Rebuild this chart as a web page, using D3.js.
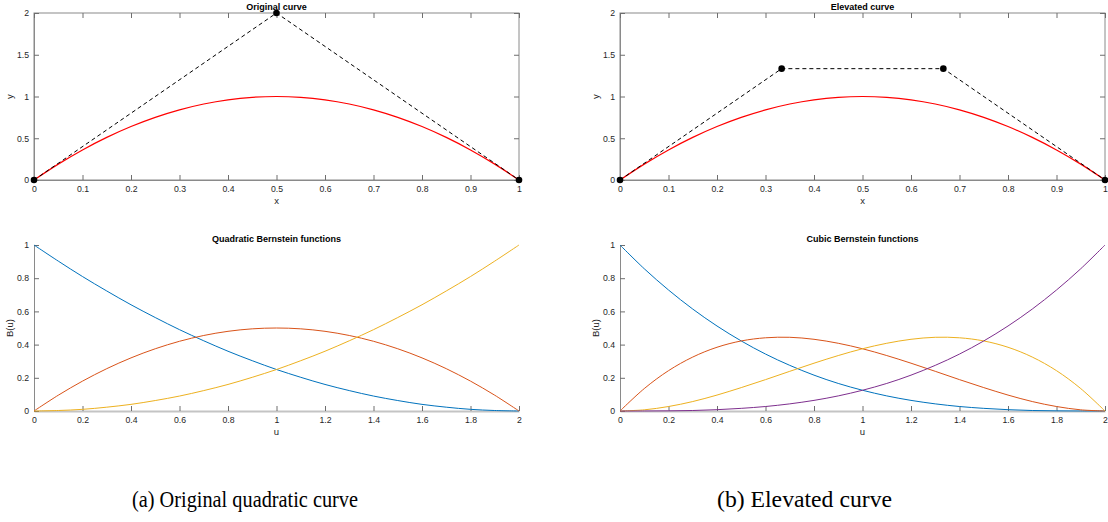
<!DOCTYPE html>
<html>
<head>
<meta charset="utf-8">
<script src="https://cdn.jsdelivr.net/npm/d3@7"></script>
<style>
html,body{margin:0;padding:0;background:#fff;}
svg{display:block;}
</style>
</head>
<body>
<svg id="c" width="1108" height="522"></svg>
<script>
// ---------- data ----------
// parameter samples (x for the curve, t = u/2 for Bernstein plots)
const xSamples = [0,0.05,0.1,0.15,0.2,0.25,0.3,0.35,0.4,0.45,0.5,0.55,0.6,0.65,0.7,0.75,0.8,0.85,0.9,0.95,1];
const uSamples = [0,0.1,0.2,0.3,0.4,0.5,0.6,0.7,0.8,0.9,1,1.1,1.2,1.3,1.4,1.5,1.6,1.7,1.8,1.9,2];
// red curve y values (same for both)
const curveY = [0,0.19,0.36,0.51,0.64,0.75,0.84,0.91,0.96,0.99,1,0.99,0.96,0.91,0.84,0.75,0.64,0.51,0.36,0.19,0];
// control polygons
const origCtrlX = [0,0.5,1];
const origCtrlY = [0,2,0];
const elevCtrlX = [0,0.3333,0.6667,1];
const elevCtrlY = [0,1.3333,1.3333,0];
// quadratic Bernstein functions
const quadB0 = [1,0.903,0.81,0.723,0.64,0.563,0.49,0.423,0.36,0.303,0.25,0.203,0.16,0.123,0.09,0.063,0.04,0.023,0.01,0.003,0];
const quadB1 = [0,0.095,0.18,0.255,0.32,0.375,0.42,0.455,0.48,0.495,0.5,0.495,0.48,0.455,0.42,0.375,0.32,0.255,0.18,0.095,0];
const quadB2 = [0,0.003,0.01,0.023,0.04,0.063,0.09,0.123,0.16,0.203,0.25,0.303,0.36,0.423,0.49,0.563,0.64,0.723,0.81,0.903,1];
// cubic Bernstein functions
const cubB0 = [1,0.857,0.729,0.614,0.512,0.422,0.343,0.275,0.216,0.166,0.125,0.091,0.064,0.043,0.027,0.016,0.008,0.003,0.001,0.0001,0];
const cubB1 = [0,0.135,0.243,0.325,0.384,0.422,0.441,0.444,0.432,0.408,0.375,0.334,0.288,0.239,0.189,0.141,0.096,0.057,0.027,0.007,0];
const cubB2 = [0,0.007,0.027,0.057,0.096,0.141,0.189,0.239,0.288,0.334,0.375,0.408,0.432,0.444,0.441,0.422,0.384,0.325,0.243,0.135,0];
const cubB3 = [0,0.0001,0.001,0.003,0.008,0.016,0.027,0.043,0.064,0.091,0.125,0.166,0.216,0.275,0.343,0.422,0.512,0.614,0.729,0.857,1];
// ticks
const curveXTicks = [0,0.1,0.2,0.3,0.4,0.5,0.6,0.7,0.8,0.9,1];
const curveYTicks = [0,0.5,1,1.5,2];
const bernXTicks = [0,0.2,0.4,0.6,0.8,1,1.2,1.4,1.6,1.8,2];
const bernYTicks = [0,0.2,0.4,0.6,0.8,1];
const colors = ["#0072BD","#D95319","#EDB120","#7E2F8E"];
const captions = ["(a) Original quadratic curve","(b) Elevated curve"];

// ---------- drawing ----------
const svg = d3.select("#c");
const FONT = "'Liberation Sans', Arial, Helvetica, sans-serif";
const fmt = d => String(+d.toFixed(2));

function panel(o){
  const g = svg.append("g");
  const x = d3.scaleLinear().domain(o.xd).range([o.x0,o.x1]);
  const y = d3.scaleLinear().domain(o.yd).range([o.y0,o.y1]);
  const tickCol = "#262626";
  if(o.box){
    g.append("rect").attr("x",o.x0).attr("y",o.y1).attr("width",o.x1-o.x0).attr("height",o.y0-o.y1)
      .attr("fill","none").attr("stroke","#8a8a8a").attr("stroke-width",1);
  }
  const ax = g.append("g").attr("transform",`translate(0,${o.y0})`)
    .call(d3.axisBottom(x).tickValues(o.xt).tickFormat(fmt).tickSizeInner(-5).tickSizeOuter(0).tickPadding(6));
  const ay = g.append("g").attr("transform",`translate(${o.x0},0)`)
    .call(d3.axisLeft(y).tickValues(o.yt).tickFormat(fmt).tickSizeInner(-5).tickSizeOuter(0).tickPadding(5));
  [ax,ay].forEach(a=>{
    a.selectAll("text").attr("font-family",FONT).attr("font-size",8.7).attr("fill",tickCol);
    a.selectAll(".tick line").attr("stroke","#6e6e6e");
  });
  if(o.box){
    ax.select(".domain").attr("stroke","#8a8a8a");
    ay.select(".domain").attr("stroke","#8a8a8a");
    const at = g.append("g").attr("transform",`translate(0,${o.y1})`)
      .call(d3.axisTop(x).tickValues(o.xt).tickFormat("").tickSizeInner(-5).tickSizeOuter(0));
    const ar = g.append("g").attr("transform",`translate(${o.x1},0)`)
      .call(d3.axisRight(y).tickValues(o.yt).tickFormat("").tickSizeInner(-5).tickSizeOuter(0));
    [at,ar].forEach(a=>{a.select(".domain").remove();a.selectAll(".tick line").attr("stroke","#6e6e6e");});
  } else {
    ax.select(".domain").attr("stroke","#c4c4c4").attr("stroke-width",2);
    ay.select(".domain").attr("stroke","#8a8a8a");
  }
  g.append("text").attr("x",(o.x0+o.x1)/2).attr("y",o.y0+24).attr("text-anchor","middle")
    .attr("font-family",FONT).attr("font-size",9.5).attr("fill",tickCol).text(o.xl);
  g.append("text").attr("transform",`translate(${o.x0-21},${(o.y0+o.y1)/2}) rotate(-90)`).attr("text-anchor","middle")
    .attr("font-family",FONT).attr("font-size",9.5).attr("fill",tickCol).text(o.yl);
  g.append("text").attr("x",(o.x0+o.x1)/2).attr("y",o.y1-3).attr("text-anchor","middle")
    .attr("font-family",FONT).attr("font-size",9).attr("font-weight","bold").attr("fill","#000").text(o.title);
  return {g,x,y};
}

const L = {x0:34,x1:519}, R = {x0:620,x1:1105};
const topY = {y0:180,y1:13}, botY = {y0:411,y1:245};

function curvePanel(pos, title, cx, cy){
  const p = panel(Object.assign({},pos,topY,{xd:[0,1],yd:[0,2],xt:curveXTicks,yt:curveYTicks,box:true,xl:"x",yl:"y",title}));
  const line = d3.line().x(d=>p.x(d[0])).y(d=>p.y(d[1])).curve(d3.curveCatmullRom);
  p.g.append("path").attr("d",line(xSamples.map((v,i)=>[v,curveY[i]])))
    .attr("fill","none").attr("stroke","#ff0000").attr("stroke-width",1.2);
  const poly = d3.line().x(d=>p.x(d[0])).y(d=>p.y(d[1]));
  const pts = cx.map((v,i)=>[v,cy[i]]);
  p.g.append("path").attr("d",poly(pts)).attr("fill","none").attr("stroke","#000")
    .attr("stroke-width",1).attr("stroke-dasharray","4,3");
  p.g.selectAll("circle.m").data(pts).join("circle").attr("cx",d=>p.x(d[0])).attr("cy",d=>p.y(d[1]))
    .attr("r",3.3).attr("fill","#000");
}
function bernPanel(pos, title, series){
  const p = panel(Object.assign({},pos,botY,{xd:[0,2],yd:[0,1],xt:bernXTicks,yt:bernYTicks,box:false,xl:"u",yl:"B(u)",title}));
  const line = d3.line().x(d=>p.x(d[0])).y(d=>p.y(d[1])).curve(d3.curveCatmullRom);
  series.forEach((s,k)=>{
    p.g.append("path").attr("d",line(uSamples.map((v,i)=>[v,s[i]])))
      .attr("fill","none").attr("stroke",colors[k]).attr("stroke-width",1);
  });
}

curvePanel(L,"Original curve",origCtrlX,origCtrlY);
curvePanel(R,"Elevated curve",elevCtrlX,elevCtrlY);
bernPanel(L,"Quadratic Bernstein functions",[quadB0,quadB1,quadB2]);
bernPanel(R,"Cubic Bernstein functions",[cubB0,cubB1,cubB2,cubB3]);

// captions
svg.append("text").attr("x",132).attr("y",507)
  .attr("textLength",226).attr("lengthAdjust","spacingAndGlyphs")
  .attr("font-family","'Liberation Serif', serif").attr("font-size",24).attr("fill","#000").text(captions[0]);
svg.append("text").attr("x",717).attr("y",507)
  .attr("textLength",175).attr("lengthAdjust","spacingAndGlyphs")
  .attr("font-family","'Liberation Serif', serif").attr("font-size",24).attr("fill","#000").text(captions[1]);
</script>
</body>
</html>
